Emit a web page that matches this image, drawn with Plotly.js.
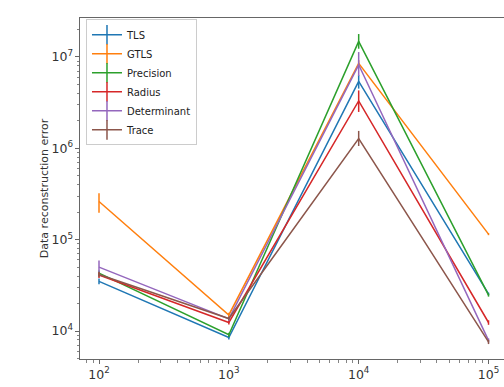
<!DOCTYPE html>
<html>
<head>
<meta charset="utf-8">
<script src="https://cdn.plot.ly/plotly-3.0.1.min.js"></script>
<style>
html, body { margin:0; padding:0; overflow:hidden; background:#fff; }
#chart { width:512px; height:387px; }
</style>
</head>
<body>
<div id="chart"></div>
<script>
const xVals = [100, 1000, 10000, 100000];
const seriesNames = ["TLS", "GTLS", "Precision", "Radius", "Determinant", "Trace"];
const colors = ["#1f77b4", "#ff7f0e", "#2ca02c", "#d62728", "#9467bd", "#8c564b"];

const tlsY = [35000, 8500, 5400000, 25500];
const gtlsY = [262000, 15000, 8500000, 115000];
const precisionY = [43000, 9100, 14800000, 24700];
const radiusY = [41000, 12400, 3300000, 12400];
const determinantY = [50000, 13600, 8200000, 7900];
const traceY = [41500, 13700, 1280000, 7600];

const tlsErrUp = [2500, 400, 900000, 800];
const tlsErrDn = [2500, 400, 900000, 800];
const gtlsErrUp = [60000, 900, 700000, 3000];
const gtlsErrDn = [65000, 900, 700000, 3000];
const precisionErrUp = [3000, 500, 3000000, 900];
const precisionErrDn = [3000, 500, 2500000, 900];
const radiusErrUp = [3000, 600, 1000000, 700];
const radiusErrDn = [3000, 600, 800000, 700];
const determinantErrUp = [9000, 700, 3100000, 400];
const determinantErrDn = [6000, 700, 2000000, 400];
const traceErrUp = [2500, 600, 270000, 400];
const traceErrDn = [2500, 600, 220000, 400];

const allY = [tlsY, gtlsY, precisionY, radiusY, determinantY, traceY];
const allUp = [tlsErrUp, gtlsErrUp, precisionErrUp, radiusErrUp, determinantErrUp, traceErrUp];
const allDn = [tlsErrDn, gtlsErrDn, precisionErrDn, radiusErrDn, determinantErrDn, traceErrDn];

const traces = [];
seriesNames.forEach((name, i) => {
  traces.push({
    x: xVals, y: allY[i], type: 'scatter', mode: 'lines', name: name,
    showlegend: false,
    line: {color: colors[i], width: 1.5},
    error_y: {type: 'data', symmetric: false, array: allUp[i], arrayminus: allDn[i],
              color: colors[i], thickness: 1.5, width: 0}
  });
});
seriesNames.forEach((name, i) => {
  traces.push({
    x: [null], y: [null], type: 'scatter', mode: 'lines+markers', name: name,
    line: {color: colors[i], width: 1.5},
    marker: {symbol: 'line-ns-open', size: 14, color: colors[i], line: {color: colors[i], width: 1.5}}
  });
});

const axisCommon = {
  type: 'log', showgrid: false, zeroline: false,
  showline: true, linecolor: '#666', linewidth: 1, mirror: true,
  ticks: 'outside', ticklen: 4, tickcolor: '#666', tickwidth: 1,
  dtick: 1, exponentformat: 'power',
  tickfont: {family: 'DejaVu Sans', size: 10, color: '#333'},
  minor: {ticks: 'outside', ticklen: 2.5, tickcolor: '#666', tickwidth: 0.8, dtick: 'D1', showgrid: false}
};

const layout = {
  width: 512, height: 387,
  margin: {l: 80, r: 4, t: 18, b: 28},
  paper_bgcolor: '#fff', plot_bgcolor: '#fff',
  font: {family: 'DejaVu Sans', color: '#333', size: 11},
  xaxis: Object.assign({}, axisCommon, {range: [Math.log10(71.4), 5.15]}),
  yaxis: Object.assign({}, axisCommon, {range: [3.694, 7.426],
    title: {text: 'Data reconstruction error', font: {family: 'DejaVu Sans', size: 11, color: '#333'}, standoff: 0}}),
  showlegend: true,
  legend: {x: 0.014, y: 0.996, xanchor: 'left', yanchor: 'top',
    bgcolor: 'rgba(255,255,255,0.8)', bordercolor: '#ccc', borderwidth: 1,
    font: {family: 'DejaVu Sans', size: 10, color: '#222'}, tracegroupgap: 0}
};

Plotly.newPlot('chart', traces, layout, {displayModeBar: false, staticPlot: true});
</script>
</body>
</html>
